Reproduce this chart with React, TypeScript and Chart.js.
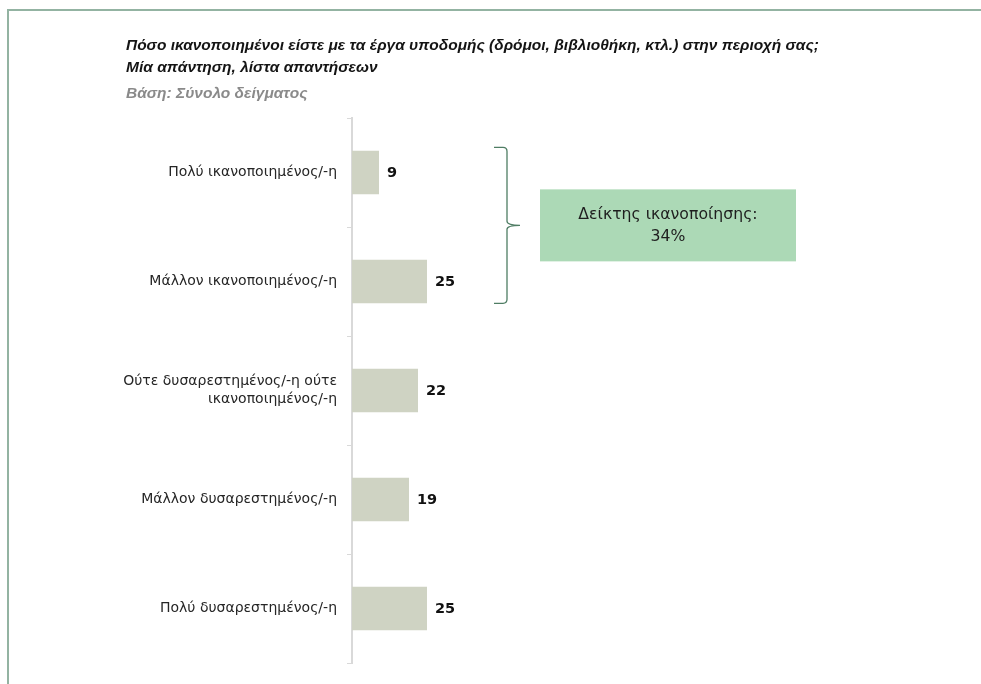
import React, { useEffect, useRef } from "react";
import { Chart, registerables } from "chart.js";

Chart.register(...registerables);

const categories: (string | string[])[] = [
  "Πολύ ικανοποιημένος/-η",
  "Μάλλον ικανοποιημένος/-η",
  ["Ούτε δυσαρεστημένος/-η ούτε", "ικανοποιημένος/-η"],
  "Μάλλον δυσαρεστημένος/-η",
  "Πολύ δυσαρεστημένος/-η",
];
const values: number[] = [9, 25, 22, 19, 25];
const titleLines: string[] = [
  "Πόσο ικανοποιημένοι είστε με τα έργα υποδομής (δρόμοι, βιβλιοθήκη, κτλ.) στην περιοχή σας;",
  "Μία απάντηση, λίστα απαντήσεων",
];
const baseText = "Βάση: Σύνολο δείγματος";
const indexLines: string[] = ["Δείκτης ικανοποίησης:", "34%"];

const FONT = "'DejaVu Sans', 'Noto Sans', sans-serif";

const decorPlugin = {
  id: "decor",
  beforeDraw(chart: any) {
    const ctx = chart.ctx;
    ctx.save();
    ctx.fillStyle = "#93b3a2";
    ctx.fillRect(7, 9, 974, 2);
    ctx.fillRect(7, 9, 2, 675);
    ctx.restore();
  },
  afterDatasetsDraw(chart: any) {
    const ctx = chart.ctx;
    const meta = chart.getDatasetMeta(0);
    ctx.save();
    ctx.font = `bold 14.5px ${FONT}`;
    ctx.fillStyle = "#111111";
    ctx.textAlign = "left";
    ctx.textBaseline = "middle";
    meta.data.forEach((bar: any, i: number) => {
      ctx.fillText(String(values[i]), bar.x + 8, bar.y + 1);
    });

    // bracket over first two categories
    const ys = chart.scales.y;
    const y0 = ys.getPixelForValue(0);
    const y1 = ys.getPixelForValue(1);
    const band = y1 - y0;
    const top = y0 - band * 0.23;
    const bot = y1 + band * 0.2;
    const mid = (top + bot) / 2;
    const xv = 507;
    const xl = 494;
    const xt = 520;
    ctx.strokeStyle = "#4f7d64";
    ctx.lineWidth = 1.3;
    ctx.beginPath();
    ctx.moveTo(xl, top);
    ctx.lineTo(xv - 4, top);
    ctx.quadraticCurveTo(xv, top, xv, top + 4);
    ctx.lineTo(xv, mid - 4);
    ctx.quadraticCurveTo(xv, mid, xt, mid);
    ctx.moveTo(xt, mid);
    ctx.quadraticCurveTo(xv, mid, xv, mid + 4);
    ctx.lineTo(xv, bot - 4);
    ctx.quadraticCurveTo(xv, bot, xv - 4, bot);
    ctx.lineTo(xl, bot);
    ctx.stroke();

    // index box
    const bx = 540, bw = 256, bh = 72;
    const by = mid - 36;
    ctx.fillStyle = "#acd9b6";
    ctx.fillRect(bx, by, bw, bh);
    ctx.fillStyle = "#1e1e1e";
    ctx.font = `15.7px ${FONT}`;
    ctx.textAlign = "center";
    ctx.textBaseline = "middle";
    ctx.fillText(indexLines[0], bx + bw / 2, by + 26);
    ctx.fillText(indexLines[1], bx + bw / 2, by + 48);
    ctx.restore();
  },
};

export default function App() {
  const ref = useRef<HTMLCanvasElement | null>(null);
  useEffect(() => {
    if (!ref.current) return;
    const chart = new Chart(ref.current, {
      type: "bar",
      data: {
        labels: categories as any,
        datasets: [
          {
            data: values,
            backgroundColor: "#cfd3c3",
            borderWidth: 0,
            barPercentage: 0.8,
            categoryPercentage: 0.5,
          },
        ],
      },
      options: {
        indexAxis: "y",
        animation: false,
        responsive: true,
        maintainAspectRatio: false,
        layout: { padding: { left: 0, top: 118, bottom: 21, right: 29 } },
        plugins: {
          legend: { display: false },
          tooltip: { enabled: false },
          title: { display: false },
        },
        scales: {
          x: { display: false, min: 0, max: 200 },
          y: {
            afterFit: (s: any) => {
              s.width = 352;
            },
            grid: {
              display: true,
              drawOnChartArea: false,
              drawTicks: true,
              tickLength: 5,
              color: "#d9d9d9",
              offset: true,
            },
            border: { display: true, color: "#d9d9d9", width: 2 },
            ticks: {
              padding: 10,
              color: "#262626",
              font: { family: FONT, size: 14, lineHeight: 1.3 },
            },
          },
        },
      },
      plugins: [decorPlugin],
    });
    return () => chart.destroy();
  }, []);

  const titleStyle: React.CSSProperties = {
    position: "absolute",
    left: 126,
    fontFamily: "'Liberation Sans', Arial, sans-serif",
    fontWeight: "bold",
    fontStyle: "italic",
    fontSize: 15.5,
    whiteSpace: "nowrap",
    lineHeight: "18px",
  };

  return (
    <div
      style={{
        position: "fixed",
        left: 0,
        top: 0,
        width: 981,
        height: 684,
        background: "#ffffff",
      }}
    >
      <canvas ref={ref} style={{ position: "absolute", left: 0, top: 0 }} />
      <div style={{ ...titleStyle, top: 36, color: "#141414" }}>{titleLines[0]}</div>
      <div style={{ ...titleStyle, top: 58, color: "#141414" }}>{titleLines[1]}</div>
      <div style={{ ...titleStyle, top: 84, color: "#8a8a8a" }}>{baseText}</div>
    </div>
  );
}
